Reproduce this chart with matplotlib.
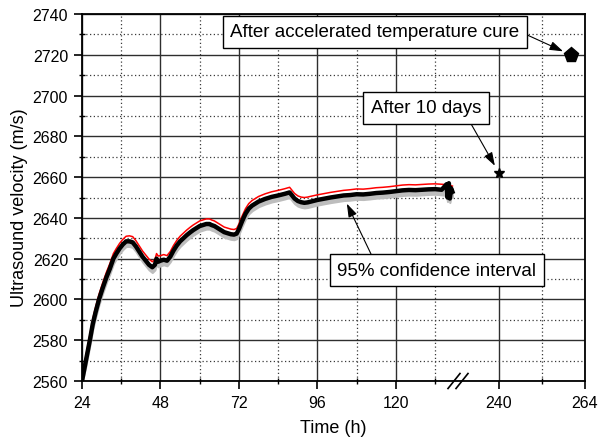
import numpy as np
import matplotlib
matplotlib.use("Agg")
import matplotlib.pyplot as plt
from matplotlib.ticker import FixedLocator, NullFormatter

plt.rcParams['font.family'] = ['Liberation Sans', 'DejaVu Sans']

# Mean ultrasound velocity during curing (m/s) vs time (h)
time_h = [24, 25.2, 26.4, 27.3, 28.2, 29.2, 30.3, 31.5, 32.5, 33.6,
          34.5, 35.5, 36.5, 37.5, 38.5, 39.5, 40.5, 41.5, 42.5, 43.5, 44.5,
          45.5, 46.3, 46.8, 47.3, 48, 49, 50, 51, 52, 53, 54, 55, 56, 57, 58,
          59, 60, 61, 62, 63, 63.6, 64.5, 65.5, 66.5, 67.5, 68.5, 69.5, 70.5,
          71.3, 72, 73, 74, 75, 76, 77, 78, 80, 82, 84, 86, 87.5, 88, 89, 90,
          91, 92, 93, 94, 96, 98, 100, 102, 104, 106, 108, 110, 112, 114, 116,
          118, 120, 122, 124, 126, 128, 130, 132, 134, 135.5, 135.8, 136.2,
          136.5, 136.9, 137.3]
velocity = [2560, 2570, 2580, 2588, 2594, 2600, 2605.5, 2611, 2615,
            2620, 2622.5, 2625, 2627, 2628.5, 2628.5, 2628, 2626, 2623.5, 2621,
            2619, 2617, 2615.8, 2617, 2620, 2618.5, 2619, 2619.5, 2619, 2621,
            2624, 2626.5, 2628.5, 2630, 2631.5, 2632.8, 2634, 2635, 2636,
            2636.5, 2637, 2637, 2636.5, 2636, 2635, 2634, 2633, 2632.5, 2632,
            2631.8, 2632.3, 2634.5, 2638.5, 2642, 2644.5, 2646, 2647, 2648,
            2649.3, 2650.3, 2651, 2651.8, 2652.5, 2651.5, 2649.5, 2648.3,
            2647.7, 2647.4, 2647.6, 2648, 2648.8, 2649.4, 2650, 2650.5, 2651,
            2651.2, 2651.6, 2651.5, 2651.8, 2652.2, 2652.4, 2652.7, 2653.1,
            2653.5, 2653.7, 2653.6, 2653.8, 2654, 2654.1, 2653.8, 2656.5,
            2650, 2657, 2649.5, 2654.5, 2652.8]
# 95% confidence bounds
ci_upper = [2561, 2572.5, 2582.5, 2590.5, 2596.5, 2602.5, 2608, 2613.5,
            2617.5, 2622.5, 2625, 2627.5, 2629.5, 2631, 2631.2,
            2630.8, 2628.8, 2626.3, 2623.8, 2621.8, 2619.8, 2618.5, 2619.5,
            2622.5, 2621.3, 2621.5, 2622, 2621.5, 2623.5, 2626.5, 2629, 2631,
            2632.5, 2634, 2635.3, 2636.5, 2637.5, 2638.5, 2639, 2639.5, 2639.5,
            2639, 2638.5, 2637.5, 2636.5, 2635.5, 2635, 2634.5, 2634.3, 2634.8,
            2637, 2641, 2644.5, 2647, 2648.5, 2649.5, 2650.5, 2651.8, 2652.8,
            2653.5, 2654.3, 2655, 2654, 2652, 2650.8, 2650.2, 2650, 2650.2,
            2650.6, 2651.3, 2651.9, 2652.5, 2653, 2653.5, 2653.8, 2654.2,
            2654.1, 2654.4, 2654.8, 2655, 2655.3, 2655.7, 2656.1, 2656.3,
            2656.2, 2656.4, 2656.6, 2656.7, 2656.5, 2656.3, 2656.2, 2656.1,
            2656, 2655.8, 2655.6]
ci_lower = [2559, 2567.5, 2577.5, 2585.5, 2591.5, 2597.5, 2603, 2608.5,
            2612.5, 2617.5, 2620, 2622.5, 2624.5, 2626, 2626, 2625.5,
            2623.5, 2621, 2618.5, 2616.5, 2614.5, 2613.2, 2614.5, 2617.5,
            2616, 2616.5, 2617, 2616.5, 2618.5, 2621.5, 2624, 2626, 2627.5,
            2629, 2630.3, 2631.5, 2632.5, 2633.5, 2634, 2634.5, 2634.5, 2634,
            2633.5, 2632.5, 2631.5, 2630.5, 2630, 2629.5, 2629.3, 2629.8, 2632,
            2636, 2639.5, 2642, 2643.5, 2644.5, 2645.5, 2646.8, 2647.8, 2648.5,
            2649.3, 2650, 2649, 2647, 2645.8, 2645.2, 2644.9, 2645.1, 2645.5,
            2646.3, 2646.9, 2647.5, 2648, 2648.5, 2648.7, 2649.1, 2649, 2649.3,
            2649.7, 2649.9, 2650.2, 2650.6, 2651, 2651.2, 2651.1, 2651.3,
            2651.5, 2651.6, 2651.3, 2651, 2648, 2650.8, 2647.5, 2650.5, 2650.2]

# Single measurements
ten_days_t, ten_days_v = [240], [2662]
cure_t, cure_v = [260], [2720]

x_major = [24, 48, 72, 96, 120, 240, 264]
x_minor = [36, 60, 84, 108, 132, 252]
y_major = list(range(2560, 2741, 20))
y_minor = list(range(2570, 2740, 20))

# Broken time axis: 24-139 h, then 228.56-264 h with a wider scale
t_break = 139
seg_t = [-1000, 24, t_break, 228.56, 264, 1264]
seg_u = [-1024 * 3.2708, 0, 376, 376.01, 503, 503 + 1000 * 3.5833]


def fwd(t):
    return np.interp(t, seg_t, seg_u)


def inv(u):
    return np.interp(u, seg_u, seg_t)


fig = plt.figure(figsize=(5.98, 4.39), dpi=100)
ax = fig.add_axes([82 / 598, 1 - 382 / 439, 503 / 598, 367 / 439])
ax.set_xscale('function', functions=(fwd, inv))
ax.set_xlim(24, 264)
ax.set_ylim(2560, 2740)

ax.xaxis.set_major_locator(FixedLocator(x_major))
ax.xaxis.set_minor_locator(FixedLocator(x_minor))
ax.xaxis.set_minor_formatter(NullFormatter())
ax.set_xticklabels([str(v) for v in x_major])
ax.yaxis.set_major_locator(FixedLocator(y_major))
ax.yaxis.set_minor_locator(FixedLocator(y_minor))
ax.set_yticklabels([str(v) for v in y_major])

ax.grid(which='major', color='#2e2e2e', linestyle='-', linewidth=1.0)
ax.grid(which='minor', color='#3a3a3a', linestyle=(0, (1, 2)), linewidth=0.9)
ax.set_axisbelow(True)

ax.tick_params(which='major', direction='out', length=6, width=1.2,
               labelsize=11.5, colors='black', top=False, right=False, pad=4)
ax.tick_params(which='minor', direction='inout', length=5, width=1.0,
               top=False, right=False)
for s in ax.spines.values():
    s.set_linewidth(1.3)

ax.fill_between(time_h, ci_lower, velocity, color='#bdbdbd', linewidth=1.5,
                edgecolor='#bdbdbd', zorder=2)
ax.plot(time_h, ci_upper, color='red', linewidth=1.1, zorder=3)
ax.plot(time_h, velocity, color='black', linewidth=3.2, zorder=4)

ax.plot(ten_days_t, ten_days_v, marker='*', color='black', markersize=7.5,
        linestyle='none', zorder=5)
ax.plot(cure_t, cure_v, marker='p', color='black', markersize=11,
        linestyle='none', zorder=5, clip_on=False)

ax.set_xlabel('Time (h)', fontsize=13)
ax.xaxis.set_label_coords(0.5, -0.104)
ax.set_ylabel('Ultrasound velocity (m/s)', fontsize=13)
ax.yaxis.set_label_coords(-0.108, 0.476)

box = dict(boxstyle='square,pad=0.4', facecolor='white', edgecolor='black',
           linewidth=1.0)
arrow = dict(arrowstyle='-|>,head_length=0.6,head_width=0.2', color='black',
             linewidth=0.8, shrinkA=0, shrinkB=6)
ax.annotate('After accelerated temperature cure', xy=(cure_t[0], cure_v[0]),
            xytext=(0.5825, 0.9523), textcoords='axes fraction',
            ha='center', va='center', fontsize=13.5, bbox=box,
            arrowprops=dict(arrow, relpos=(1.0, 0.5)), zorder=6)
ax.annotate('After 10 days', xy=(ten_days_t[0], ten_days_v[0]),
            xytext=(0.6839, 0.7439), textcoords='axes fraction',
            ha='center', va='center', fontsize=13.5, bbox=box,
            arrowprops=dict(arrow, relpos=(0.87, 0.0)), zorder=6)
ax.annotate('95% confidence interval', xy=(105, 2647),
            xytext=(0.7048, 0.3011), textcoords='axes fraction',
            ha='center', va='center', fontsize=13.5, bbox=box,
            arrowprops=dict(arrow, relpos=(0.19, 1.0), shrinkB=0), zorder=6)

# Axis break marks "//" on the time axis
u0, u1 = fwd(24), fwd(264)
xb = (fwd(t_break) - u0) / (u1 - u0)
half_w = 6 / 503
half_h = 7.5 / 367
for dx in (-4 / 503, 4 / 503):
    ax.plot([xb + dx - half_w, xb + dx + half_w], [-half_h, half_h],
            color='black', linewidth=1.2, transform=ax.transAxes,
            clip_on=False, zorder=7)

fig.savefig('out.png', dpi=100)
